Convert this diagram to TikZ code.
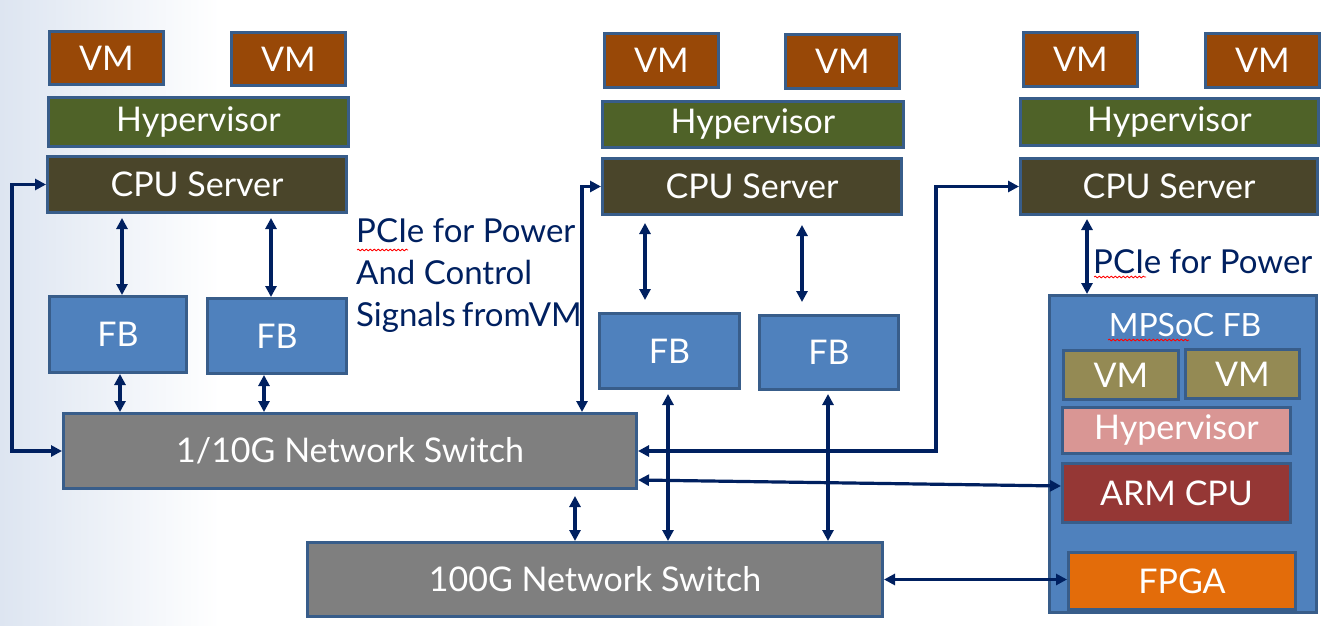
\documentclass[tikz,border=0pt]{standalone}
\usepackage{fontspec}
\setmainfont{Lato}
\usetikzlibrary{arrows.meta,decorations.pathmorphing}
\definecolor{bord}{HTML}{385D8A}
\definecolor{vmc}{HTML}{984807}
\definecolor{hypc}{HTML}{4F6228}
\definecolor{cpuc}{HTML}{4A452A}
\definecolor{fbc}{HTML}{4F81BD}
\definecolor{swc}{HTML}{7F7F7F}
\definecolor{ivmc}{HTML}{948A54}
\definecolor{ihypc}{HTML}{D99694}
\definecolor{armc}{HTML}{953735}
\definecolor{fpgac}{HTML}{E36C0A}
\definecolor{navy}{HTML}{002060}
\definecolor{bgb}{HTML}{DDE5F1}
\tikzset{
  box/.style={draw=bord, line width=3pt, text=white, inner sep=0pt,
    font=\fontsize{34}{40}\selectfont},
  vmbox/.style={box, fill=vmc, minimum width=114pt, minimum height=53pt},
  dbl/.style={draw=navy, line width=3.2pt, {Triangle[length=11pt,width=11pt]}-{Triangle[length=11pt,width=11pt]}},
  lbl/.style={text=navy, font=\fontsize{33}{42}\selectfont, inner sep=0pt},
  squig/.style={draw=red, line width=0.8pt, decorate, decoration={snake, amplitude=0.9pt, segment length=4pt}}
}
\begin{document}
\begin{tikzpicture}[x=1pt,y=-1pt]
\useasboundingbox (0,0) rectangle (1335,626);
\shade[left color=bgb, right color=white] (0,0) rectangle (220,626);
% left server
\node[vmbox] (vm1) at (106.5,58) {VM};
\node[vmbox] (vm2) at (288.5,59) {VM};
\node[box, fill=hypc, minimum width=300pt, minimum height=49pt] (hyp1) at (198.5,122) {Hypervisor};
\node[box, fill=cpuc, minimum width=299pt, minimum height=56pt] (cpu1) at (197,184.5) {CPU Server};
\node[box, fill=fbc, minimum width=137pt, minimum height=76pt] (fb1) at (118,334.5) {FB};
\node[box, fill=fbc, minimum width=139pt, minimum height=75pt] (fb2) at (277,336) {FB};
\node[box, fill=swc, minimum width=573pt, minimum height=75pt] (sw1) at (350,451) {1/10G Network Switch};
% middle server
\node[vmbox] (vm3) at (661.5,60.5) {VM};
\node[vmbox] (vm4) at (842.5,61.5) {VM};
\node[box, fill=hypc, minimum width=301pt, minimum height=46pt] (hyp2) at (753,124.5) {Hypervisor};
\node[box, fill=cpuc, minimum width=299pt, minimum height=56pt] (cpu2) at (752,186.5) {CPU Server};
\node[box, fill=fbc, minimum width=140pt, minimum height=75pt] (fb3) at (669.5,351) {FB};
\node[box, fill=fbc, minimum width=139pt, minimum height=74pt] (fb4) at (829,352.5) {FB};
% right server
\node[vmbox] (vm5) at (1080.5,59.5) {VM};
\node[vmbox] (vm6) at (1262.5,60.5) {VM};
\node[box, fill=hypc, minimum width=298pt, minimum height=47pt] (hyp3) at (1169.5,122) {Hypervisor};
\node[box, fill=cpuc, minimum width=297pt, minimum height=56pt] (cpu3) at (1169,186.5) {CPU Server};
% MPSoC
\node[box, fill=fbc, minimum width=267pt, minimum height=317pt] (mp) at (1183,454) {};
\node[text=white, font=\fontsize{32}{38}\selectfont, inner sep=0pt] (mpl) at (1185,325) {MPSoC FB};
\node[box, fill=ivmc, minimum width=115pt, minimum height=49pt] (ivm1) at (1121,375) {VM};
\node[box, fill=ivmc, minimum width=114pt, minimum height=49pt] (ivm2) at (1242.5,374) {VM};
\node[box, fill=ihypc, minimum width=228pt, minimum height=46pt] (ihyp) at (1176.5,430.5) {Hypervisor};
\node[box, fill=armc, minimum width=228pt, minimum height=59pt] (arm) at (1176.5,493) {ARM CPU};
\node[box, fill=fpgac, minimum width=227pt, minimum height=57pt] (fpga) at (1182,581) {FPGA};
% 100G switch
\node[box, fill=swc, minimum width=575pt, minimum height=74pt] (sw2) at (595,579.5) {100G Network Switch};
% labels
\node[lbl, anchor=north west, align=left] (pl1) at (356,218) {PCIe for Power\\And Control\\Signals\hspace{6pt}from\hspace{-2pt}VM};
\node[lbl, anchor=west] (pl2) at (1093,262) {PCIe for Power};
\draw[squig] (357,250) -- (408,250);
\draw[squig] (1094,277) -- (1146,277);
\draw[squig] (1108,340) -- (1189,340);
% connectors
\coordinate (L) at (12,0);
\coordinate (M) at (582,0);
\coordinate (R) at (936,0);
\draw[dbl] (cpu1.west) -- (cpu1.west -| L) -- (sw1.west -| L) -- (sw1.west);
\draw[dbl, shorten <=4pt] ([xshift=4pt]fb1.north |- cpu1.south) -- ([xshift=4pt]fb1.north);
\draw[dbl, shorten <=4pt] ([xshift=-6pt]fb2.north |- cpu1.south) -- ([xshift=-6pt]fb2.north);
\draw[dbl] ([xshift=2pt]fb1.south) -- ([xshift=2pt]fb1.south |- sw1.north);
\draw[dbl] ([xshift=-13pt]fb2.south) -- ([xshift=-13pt]fb2.south |- sw1.north);
\draw[dbl] (cpu2.west) -- (cpu2.west -| M) -- (sw1.north -| M);
\draw[dbl, shorten <=7pt, shorten >=12pt] ([xshift=-24.5pt]fb3.north |- cpu2.south) -- ([xshift=-24.5pt]fb3.north);
\draw[dbl, shorten <=9pt, shorten >=12pt] ([xshift=-27pt]fb4.north |- cpu2.south) -- ([xshift=-27pt]fb4.north);
\draw[dbl, shorten <=4pt] ([xshift=-1.5pt]fb3.south) -- ([xshift=-1.5pt]fb3.south |- sw2.north);
\draw[dbl, shorten <=3pt] ([xshift=-1pt]fb4.south) -- ([xshift=-1pt]fb4.south |- sw2.north);
\draw[dbl] (cpu3.west) -- (cpu3.west -| R) -- (sw1.east -| R) -- (sw1.east);
\draw[dbl] ([yshift=-29pt]sw1.east) -- ([yshift=7pt]arm.west);
\draw[dbl, shorten >=6pt] ([xshift=-20pt]sw2.north) -- ([xshift=-20pt]sw2.north |- sw1.south);
\draw[dbl] (sw2.east) -- (sw2.east -| fpga.west);
\draw[dbl, shorten <=3pt] ([xshift=-96pt]mp.north |- cpu3.south) -- ([xshift=-96pt]mp.north);
\end{tikzpicture}
\end{document}
